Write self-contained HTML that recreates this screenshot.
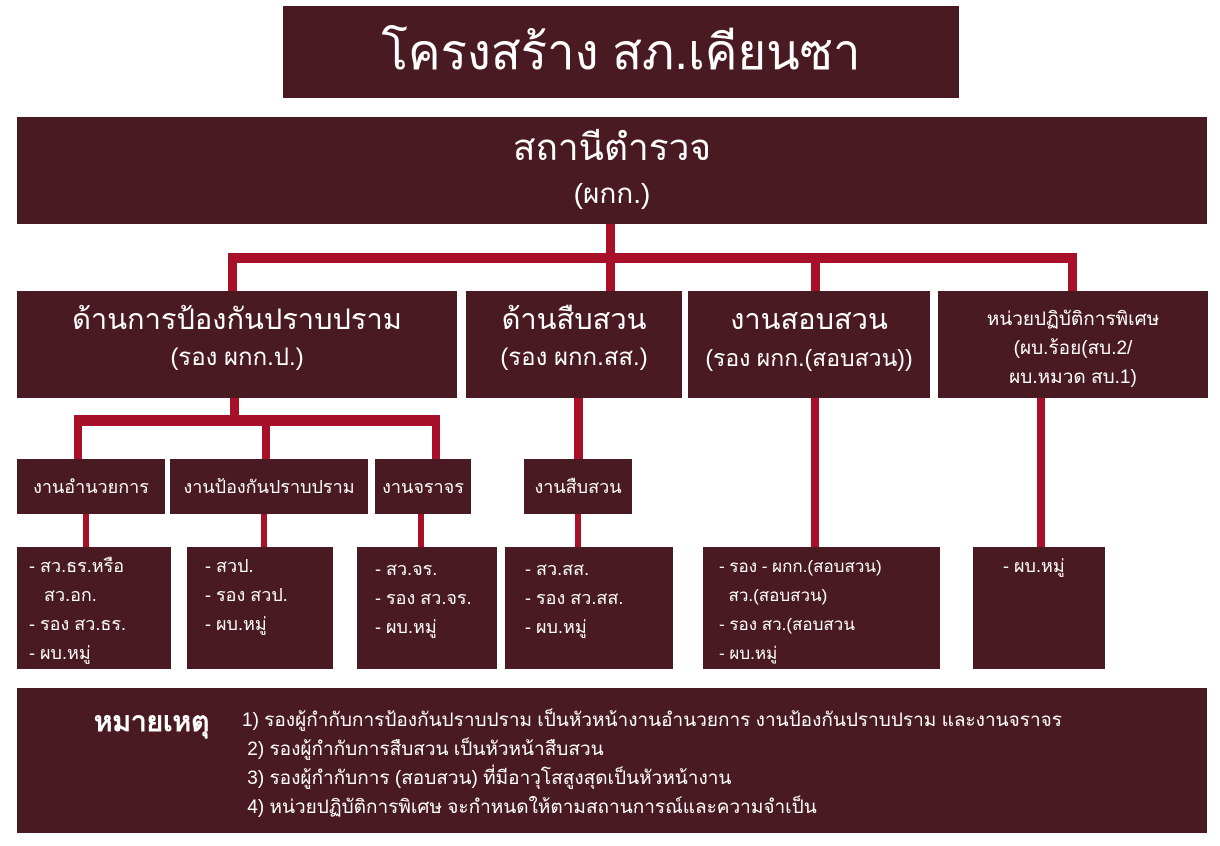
<!DOCTYPE html>
<html><head><meta charset="utf-8"><style>
body{margin:0;width:1220px;height:846px;background:#fff;position:relative;overflow:hidden;font-family:"Liberation Sans","DejaVu Sans",sans-serif;color:#fff}
.b{position:absolute;background:#4a1a22}
.l{position:absolute;background:#a8102a}
.c{display:flex;flex-direction:column;align-items:center;justify-content:center;text-align:center;white-space:nowrap}
.t{position:absolute;white-space:nowrap}
</style></head><body>
<div class="b c" style="left:283px;top:6px;width:676px;height:92px;font-size:49px">โครงสร้าง สภ.เคียนซา</div>
<div class="b c" style="left:17px;top:117px;width:1190px;height:107px;font-size:37px;line-height:46px"><div>สถานีตำรวจ</div><div style="font-size:28px">(ผกก.)</div></div>
<div class="l" style="left:606px;top:224px;width:9px;height:39px"></div>
<div class="l" style="left:228px;top:253px;width:849px;height:10px"></div>
<div class="l" style="left:228px;top:253px;width:9px;height:38px"></div>
<div class="l" style="left:606px;top:253px;width:9px;height:38px"></div>
<div class="l" style="left:811px;top:253px;width:9px;height:38px"></div>
<div class="l" style="left:1068px;top:253px;width:9px;height:38px"></div>
<div class="b c" style="left:17px;top:291px;width:440px;height:107px;font-size:29px;line-height:38px;justify-content:flex-start;padding-top:10px;box-sizing:border-box"><div>ด้านการป้องกันปราบปราม</div><div style="font-size:24px">(รอง ผกก.ป.)</div></div>
<div class="b c" style="left:466px;top:291px;width:216px;height:107px;font-size:29px;line-height:38px;justify-content:flex-start;padding-top:10px;box-sizing:border-box"><div>ด้านสืบสวน</div><div style="font-size:24px">(รอง ผกก.สส.)</div></div>
<div class="b c" style="left:688px;top:291px;width:242px;height:107px;font-size:29px;line-height:38px;justify-content:flex-start;padding-top:10px;box-sizing:border-box"><div>งานสอบสวน</div><div style="font-size:23px">(รอง ผกก.(สอบสวน))</div></div>
<div class="b c" style="left:938px;top:291px;width:270px;height:107px;font-size:19px;line-height:29px;justify-content:flex-start;padding-top:14px;box-sizing:border-box"><div>หน่วยปฏิบัติการพิเศษ</div><div>(ผบ.ร้อย(สบ.2/</div><div>ผบ.หมวด สบ.1)</div></div>
<div class="l" style="left:230px;top:398px;width:9px;height:20px"></div>
<div class="l" style="left:74px;top:415px;width:366px;height:11px"></div>
<div class="l" style="left:74px;top:415px;width:8px;height:44px"></div>
<div class="l" style="left:262px;top:415px;width:8px;height:44px"></div>
<div class="l" style="left:432px;top:415px;width:8px;height:44px"></div>
<div class="l" style="left:574px;top:398px;width:9px;height:61px"></div>
<div class="l" style="left:811px;top:398px;width:8px;height:149px"></div>
<div class="l" style="left:1037px;top:398px;width:8px;height:149px"></div>
<div class="b c" style="left:17px;top:459px;width:148px;height:55px;font-size:18px">งานอำนวยการ</div>
<div class="b c" style="left:170px;top:459px;width:198px;height:55px;font-size:18px">งานป้องกันปราบปราม</div>
<div class="b c" style="left:375px;top:459px;width:96px;height:55px;font-size:18px">งานจราจร</div>
<div class="b c" style="left:524px;top:459px;width:108px;height:55px;font-size:18px">งานสืบสวน</div>
<div class="l" style="left:83px;top:514px;width:6px;height:33px"></div>
<div class="l" style="left:261px;top:514px;width:6px;height:33px"></div>
<div class="l" style="left:418px;top:514px;width:6px;height:33px"></div>
<div class="l" style="left:575px;top:514px;width:6px;height:33px"></div>
<div class="b" style="left:17px;top:547px;width:154px;height:122px;font-size:18px;line-height:29px;padding:5px 0 0 12px;box-sizing:border-box;white-space:nowrap">- สว.ธร.หรือ<br>&nbsp;&nbsp;&nbsp;สว.อก.<br>- รอง สว.ธร.<br>- ผบ.หมู่</div>
<div class="b" style="left:187px;top:547px;width:146px;height:122px;font-size:18px;line-height:29px;padding:5px 0 0 18px;box-sizing:border-box;white-space:nowrap">- สวป.<br>- รอง สวป.<br>- ผบ.หมู่</div>
<div class="b" style="left:357px;top:547px;width:140px;height:122px;font-size:18px;line-height:29px;padding:8px 0 0 18px;box-sizing:border-box;white-space:nowrap">- สว.จร.<br>- รอง สว.จร.<br>- ผบ.หมู่</div>
<div class="b" style="left:505px;top:547px;width:168px;height:122px;font-size:18px;line-height:29px;padding:8px 0 0 20px;box-sizing:border-box;white-space:nowrap">- สว.สส.<br>- รอง สว.สส.<br>- ผบ.หมู่</div>
<div class="b" style="left:703px;top:547px;width:237px;height:122px;font-size:17px;line-height:29px;padding:5px 0 0 16px;box-sizing:border-box;white-space:nowrap">- รอง - ผกก.(สอบสวน)<br>&nbsp;&nbsp;สว.(สอบสวน)<br>- รอง สว.(สอบสวน<br>- ผบ.หมู่</div>
<div class="b" style="left:973px;top:547px;width:132px;height:122px;font-size:18px;line-height:29px;padding:5px 0 0 30px;box-sizing:border-box">- ผบ.หมู่</div>
<div class="b" style="left:17px;top:688px;width:1190px;height:145px"></div>
<div class="t" style="left:94px;top:700px;font-size:28px;font-weight:bold">หมายเหตุ</div>
<div class="t" style="left:242px;top:706px;font-size:19px;line-height:29px">1) รองผู้กำกับการป้องกันปราบปราม เป็นหัวหน้างานอำนวยการ งานป้องกันปราบปราม และงานจราจร<br>&nbsp;2) รองผู้กำกับการสืบสวน เป็นหัวหน้าสืบสวน<br>&nbsp;3) รองผู้กำกับการ (สอบสวน) ที่มีอาวุโสสูงสุดเป็นหัวหน้างาน<br>&nbsp;4) หน่วยปฏิบัติการพิเศษ จะกำหนดให้ตามสถานการณ์และความจำเป็น</div>
</body></html>
